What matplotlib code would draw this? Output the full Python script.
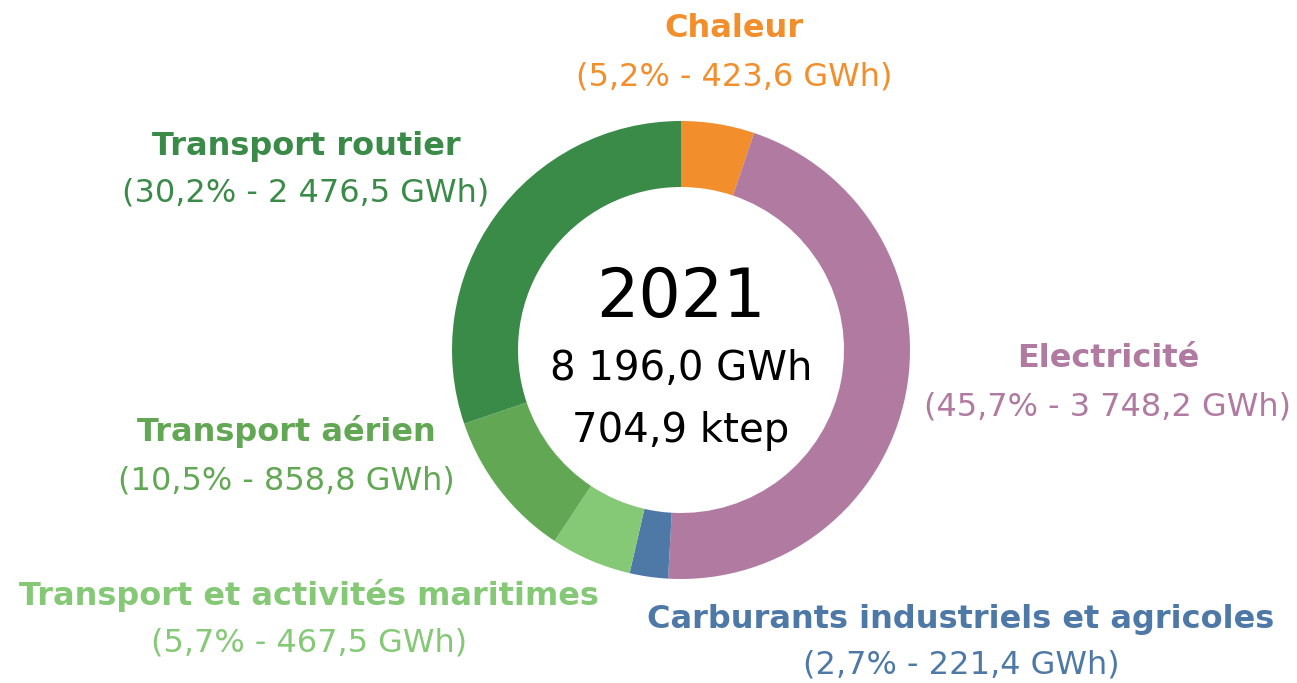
import matplotlib
matplotlib.use("Agg")
import matplotlib.pyplot as plt

# Data
categories = ["Chaleur", "Electricité", "Carburants industriels et agricoles",
              "Transport et activités maritimes", "Transport aérien", "Transport routier"]
gwh = [423.6, 3748.2, 221.4, 467.5, 858.8, 2476.5]
pct_labels = ["5,2%", "45,7%", "2,7%", "5,7%", "10,5%", "30,2%"]
gwh_labels = ["423,6", "3 748,2", "221,4", "467,5", "858,8", "2 476,5"]
colors = ["#F28E2B", "#B07AA1", "#4E79A7", "#85C977", "#62A854", "#3A8A48"]
year = "2021"
total_gwh = "8 196,0 GWh"
total_ktep = "704,9 ktep"

W, H = 1297, 683
fig = plt.figure(figsize=(W / 100, H / 100), dpi=100)
ax = fig.add_axes([0, 0, 1, 1])

cx, cy = 681, H - 350
R = 229
ax.pie(gwh, colors=colors, startangle=90, counterclock=False,
       radius=R, center=(cx, cy), frame=True,
       wedgeprops=dict(width=R - 163, linewidth=0))
ax.set_xlim(0, W)
ax.set_ylim(0, H)
ax.set_aspect("equal")
ax.axis("off")

font = "DejaVu Sans"
# label positions (pixels): x center, title baseline y, subtitle baseline y
pos = [(734, 37, 85), (1108, 367, 415), (961, 628, 674),
       (309, 605, 652), (286, 441, 489), (306, 155, 202)]
for name, p, g, c, (x, y1, y2) in zip(categories, pct_labels, gwh_labels, colors, pos):
    ax.text(x, H - y1, name, color=c, fontsize=23, fontweight="bold",
            family=font, ha="center", va="baseline")
    ax.text(x, H - y2, f"({p} - {g} GWh)", color=c, fontsize=23,
            family=font, ha="center", va="baseline")

ax.text(cx, H - 317, year, fontsize=48, family=font, ha="center", va="baseline", color="black")
ax.text(cx, H - 380, total_gwh, fontsize=29, family=font, ha="center", va="baseline", color="black")
ax.text(cx, H - 442, total_ktep, fontsize=29, family=font, ha="center", va="baseline", color="black")

fig.savefig("out.png", dpi=100, facecolor="white")
